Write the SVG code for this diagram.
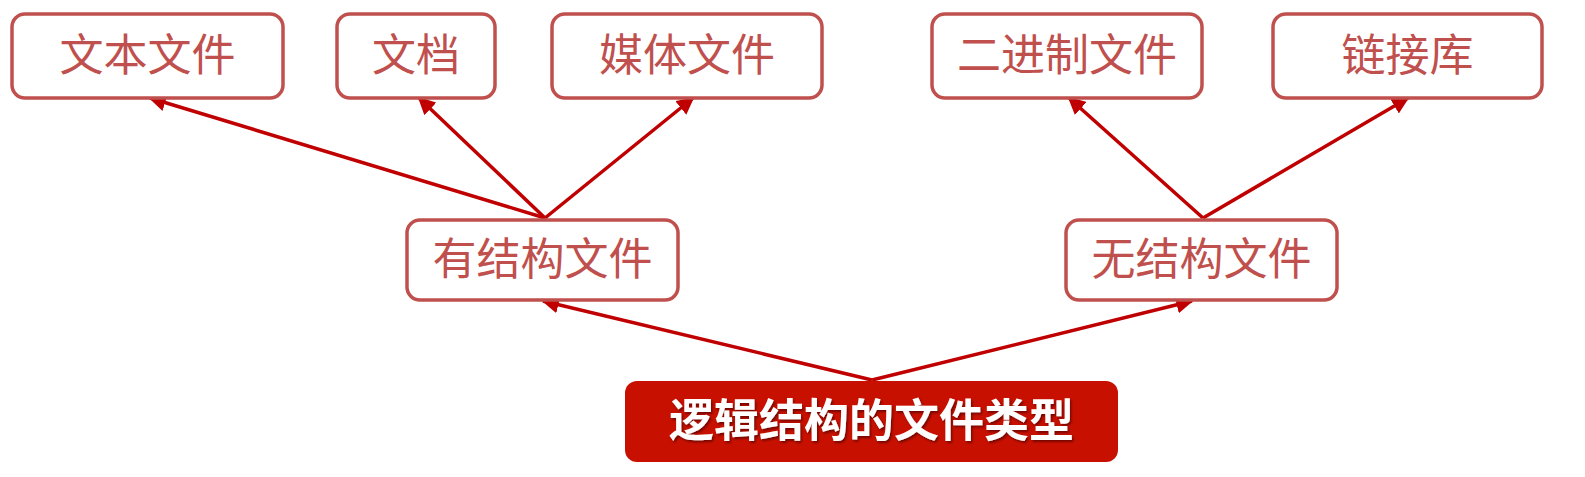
<svg xmlns="http://www.w3.org/2000/svg" width="1585" height="477" viewBox="0 0 1585 477">
<defs>
<style>
.box{fill:#ffffff;stroke:#c0504d;stroke-width:3.5}
.lbl{font-family:"Noto Sans CJK SC","Liberation Sans",sans-serif;font-size:44px;fill:#c0504d;text-anchor:middle}
.root{fill:#c81000;stroke:none}
.rootlbl{font-family:"Noto Sans CJK SC","Liberation Sans",sans-serif;font-size:45px;font-weight:bold;fill:#ffffff;text-anchor:middle;filter:url(#sh)}
.conn{stroke:#c00000;stroke-width:3.5;fill:none;marker-end:url(#ah)}
</style>
<filter id="sh" x="-5%" y="-20%" width="110%" height="140%">
<feDropShadow dx="1.5" dy="2" stdDeviation="1" flood-color="#400000" flood-opacity="0.6"/>
</filter>
<marker id="ah" viewBox="0 0 10 10" refX="9" refY="5" markerWidth="5" markerHeight="5" orient="auto" markerUnits="strokeWidth">
<path d="M0,0 L10,5 L0,10 z" fill="#c00000"/>
</marker>
</defs>
<rect width="1585" height="477" fill="#ffffff"/>
<g id="connectors">
<line class="conn" x1="545" y1="218" x2="150" y2="98"/>
<line class="conn" x1="545" y1="218" x2="419" y2="98"/>
<line class="conn" x1="545" y1="218" x2="693" y2="98"/>
<line class="conn" x1="1203" y1="218" x2="1069" y2="98"/>
<line class="conn" x1="1203" y1="218" x2="1408" y2="98"/>
<line class="conn" x1="872" y1="380" x2="543" y2="301"/>
<line class="conn" x1="872" y1="380" x2="1192" y2="301"/>
</g>
<g id="n-text">
<rect class="box" x="12" y="14" width="271" height="84" rx="13"/>
<text class="lbl" x="147.5" y="71">文本文件</text>
</g>
<g id="n-doc">
<rect class="box" x="337" y="14" width="158" height="84" rx="13"/>
<text class="lbl" x="416" y="71">文档</text>
</g>
<g id="n-media">
<rect class="box" x="552" y="14" width="270" height="84" rx="13"/>
<text class="lbl" x="687" y="71">媒体文件</text>
</g>
<g id="n-binary">
<rect class="box" x="932" y="14" width="270" height="84" rx="13"/>
<text class="lbl" x="1067" y="71">二进制文件</text>
</g>
<g id="n-lib">
<rect class="box" x="1273" y="14" width="269" height="84" rx="13"/>
<text class="lbl" x="1407.5" y="71">链接库</text>
</g>
<g id="n-structured">
<rect class="box" x="407" y="220" width="271" height="80" rx="13"/>
<text class="lbl" x="542.5" y="275">有结构文件</text>
</g>
<g id="n-unstructured">
<rect class="box" x="1066" y="220" width="271" height="80" rx="13"/>
<text class="lbl" x="1201.5" y="275">无结构文件</text>
</g>
<g id="n-root">
<rect class="root" x="625" y="381" width="493" height="81" rx="12"/>
<text class="rootlbl" x="871.5" y="437">逻辑结构的文件类型</text>
</g>
</svg>
